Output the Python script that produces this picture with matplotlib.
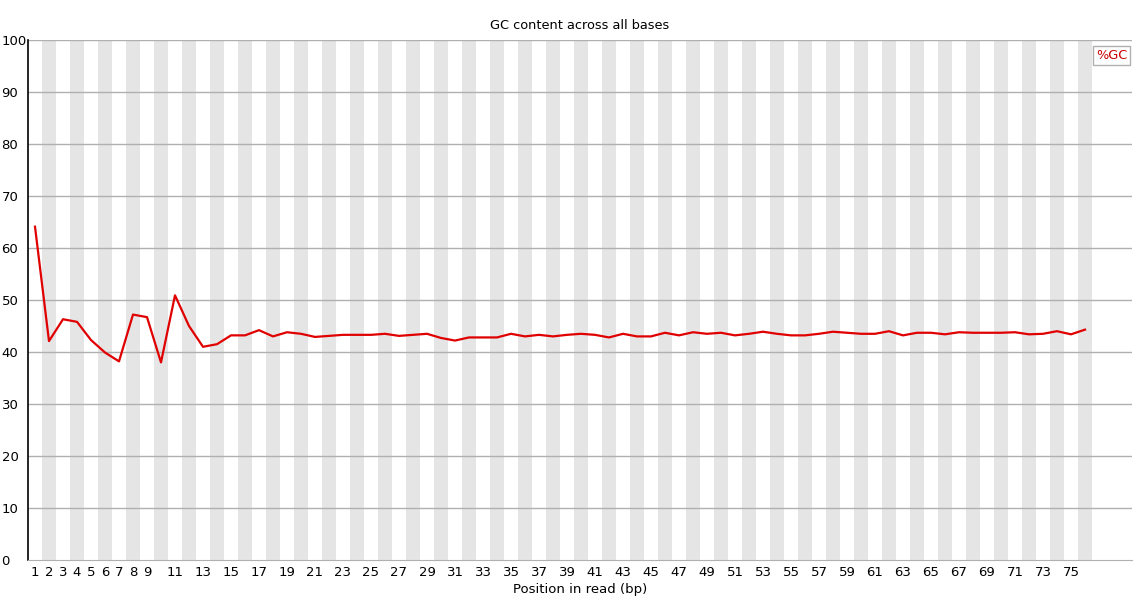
import matplotlib
matplotlib.use("Agg")
import matplotlib.pyplot as plt

# Dados: %GC por posição na leitura
posicoes = list(range(1, 77))
gc = [64.1, 42.1, 46.3, 45.8, 42.3, 39.9, 38.2, 47.2, 46.7, 38.0,
      50.9, 45.0, 41.0, 41.5, 43.2, 43.2, 44.2, 43.0, 43.8, 43.5,
      42.9, 43.1, 43.3, 43.3, 43.3, 43.5, 43.1, 43.3, 43.5, 42.7,
      42.2, 42.8, 42.8, 42.8, 43.5, 43.0, 43.3, 43.0, 43.3, 43.5,
      43.3, 42.8, 43.5, 43.0, 43.0, 43.7, 43.2, 43.8, 43.5, 43.7,
      43.2, 43.5, 43.9, 43.5, 43.2, 43.2, 43.5, 43.9, 43.7, 43.5,
      43.5, 44.0, 43.2, 43.7, 43.7, 43.4, 43.8, 43.7, 43.7, 43.7,
      43.8, 43.4, 43.5, 44.0, 43.4, 44.3]
rotulos_x = [str(i) for i in range(1, 10)] + [str(i) for i in range(11, 76, 2)]
pos_rotulos = list(range(1, 10)) + list(range(11, 76, 2))
rotulos_y = list(range(0, 101, 10))

W, H = 1140, 600
fig = plt.figure(figsize=(W / 100, H / 100), dpi=100)
ax = fig.add_axes([28 / W, 40 / H, 1104 / W, 520 / H])

x_dir = 0.5 + 1104 / 14
ax.set_xlim(0.5, x_dir)
ax.set_ylim(0, 100)

# Faixas cinzentas alternadas
for p in posicoes:
    if p % 2 == 0:
        ax.axvspan(p - 0.5, p + 0.5, color="#e5e5e5", lw=0, zorder=0)

# Linhas horizontais
for v in rotulos_y[1:]:
    ax.axhline(v, color="#b0b0b0", lw=1, zorder=1)

ax.plot(posicoes, gc, color="#e00000", lw=1.6, zorder=3)

for s in ["top", "right"]:
    ax.spines[s].set_visible(False)
ax.spines["left"].set_color("black")
ax.spines["left"].set_linewidth(1.2)
ax.spines["bottom"].set_color("#b0b0b0")

ax.set_xticks(pos_rotulos)
ax.set_xticklabels(rotulos_x, fontsize=9.5)
ax.set_yticks(rotulos_y)
ax.set_yticklabels([str(v) for v in rotulos_y], fontsize=9.5, ha="left")
ax.tick_params(axis="both", length=0)
ax.tick_params(axis="y", pad=19)
ax.tick_params(axis="x", pad=4)

ax.set_xlabel("Position in read (bp)", fontsize=9.5, labelpad=3)
ax.set_title("GC content across all bases", fontsize=9.3, pad=8)

# Legenda
ax.text(0.9955, 0.983, "%GC", transform=ax.transAxes, ha="right", va="top",
        color="#cc0000", fontsize=9.3,
        bbox=dict(boxstyle="square,pad=0.25", fc="white", ec="#b0b0b0", lw=1))

fig.savefig("out.png", dpi=100)
